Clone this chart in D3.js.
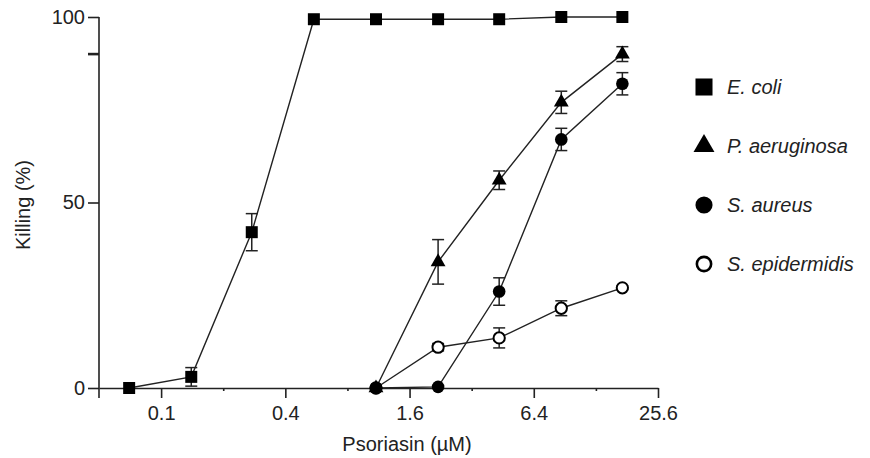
<!DOCTYPE html>
<html>
<head>
<meta charset="utf-8">
<script src="https://cdn.jsdelivr.net/npm/d3@7"></script>
<style>
    body { margin: 0; background: #fff; }
    svg { display: block; font-family: "Liberation Sans", Arial, sans-serif; }
</style>
</head>
<body>
<div class="container"></div>
<script>
// concentrations (uM)
var doses = [0.07, 0.14, 0.275, 0.55, 1.1, 2.2, 4.35, 8.7, 17.2];

var ecoli = [0, 3, 42, 99.4, 99.4, 99.4, 99.4, 100, 100];
var ecoli_err = [0, 2.5, 5, 0, 0, 0, 0, 0, 0];

var paeru = [null, null, null, null, 0, 34, 56, 77, 90];
var paeru_err = [0, 0, 0, 0, 0, 6, 2.5, 3, 2];

var saureus = [null, null, null, null, 0, 0.3, 26, 67, 82];
var saureus_err = [0, 0, 0, 0, 0, 0, 3.7, 3, 3];

var sepi = [null, null, null, null, 0, 11, 13.5, 21.5, 27];
var sepi_err = [0, 0, 0, 0, 0, 1, 2.7, 2, 0.5];

var major_ticks = [0.1, 0.4, 1.6, 6.4, 25.6];
var minor_ticks = [0.2, 0.8, 3.2, 12.8];
var y_ticks = [0, 50, 100];
var legend_labels = ["E. coli", "P. aeruginosa", "S. aureus", "S. epidermidis"];

var config = {
    width: 870,
    height: 458,
    left: 99,
    right: 658,
    top: 17,
    bottom: 388,
    ink: "#222"
};

var x = d3.scaleLog().base(2).domain([0.05, 25.6]).range([config.left, config.right]);
var y = d3.scaleLinear().domain([0, 100]).range([config.bottom, config.top]);

var svg = d3.select(".container").append("svg")
    .attr("width", config.width)
    .attr("height", config.height);

// series: symbol, plot size, legend size, filled?
var series = [
    { name: legend_labels[0], values: ecoli, err: ecoli_err, type: d3.symbolSquare, size: 144, lsize: 290, open: false },
    { name: legend_labels[3], values: sepi, err: sepi_err, type: d3.symbolCircle, size: 100, lsize: 160, open: true },
    { name: legend_labels[1], values: paeru, err: paeru_err, type: d3.symbolTriangle, size: 95, lsize: 190, open: false },
    { name: legend_labels[2], values: saureus, err: saureus_err, type: d3.symbolCircle, size: 125, lsize: 230, open: false }
];

var points = (s) => doses.map((d, i) => ({ x: d, y: s.values[i], e: s.err[i] })).filter((p) => p.y !== null);

// axes
var xMajor = svg.append("g")
    .attr("transform", `translate(0,${config.bottom})`)
    .call(d3.axisBottom(x).tickValues(major_ticks).tickSize(10).tickPadding(8).tickSizeOuter(0)
        .tickFormat((d) => d));
xMajor.select(".domain").attr("stroke", config.ink).attr("stroke-width", 1.6);

svg.append("g")
    .attr("transform", `translate(0,${config.bottom})`)
    .call(d3.axisBottom(x).tickValues(minor_ticks).tickSize(3).tickFormat(""))
    .select(".domain").remove();

var yAxis = svg.append("g")
    .attr("transform", `translate(${config.left},0)`)
    .call(d3.axisLeft(y).tickValues(y_ticks).tickSize(11).tickPadding(3).tickSizeOuter(0));
yAxis.select(".domain").remove();

// y axis line runs a little below the x axis
svg.append("line")
    .attr("x1", config.left).attr("x2", config.left)
    .attr("y1", y(100)).attr("y2", y(0) + 10)
    .attr("stroke", config.ink).attr("stroke-width", 1.6);

// stray thick tick near 90
svg.append("line")
    .attr("x1", config.left - 11).attr("x2", config.left)
    .attr("y1", y(90)).attr("y2", y(90))
    .attr("stroke", config.ink).attr("stroke-width", 2.6);

svg.selectAll(".tick line").attr("stroke", config.ink).attr("stroke-width", 1.6);
svg.selectAll(".tick text").attr("fill", config.ink).style("font-size", "20px");

// titles
svg.append("text")
    .attr("x", 407).attr("y", 451)
    .attr("text-anchor", "middle")
    .attr("fill", config.ink)
    .style("font-size", "20px")
    .text("Psoriasin (\u00b5M)");

svg.append("text")
    .attr("transform", "translate(30,205) rotate(-90)")
    .attr("text-anchor", "middle")
    .attr("fill", config.ink)
    .style("font-size", "20px")
    .text("Killing (%)");

// lines
var line = d3.line().x((d) => x(d.x)).y((d) => y(d.y));
series.forEach((s) => {
    svg.append("path")
        .attr("d", line(points(s)))
        .attr("fill", "none")
        .attr("stroke", config.ink)
        .attr("stroke-width", 1.4);
});

// error bars
series.forEach((s) => {
    var g = svg.append("g").attr("stroke", config.ink).attr("stroke-width", 1.5);
    points(s).filter((p) => p.e > 0).forEach((p) => {
        var cx = x(p.x);
        g.append("line").attr("x1", cx).attr("x2", cx).attr("y1", y(p.y - p.e)).attr("y2", y(p.y + p.e));
        [p.y - p.e, p.y + p.e].forEach((v) => {
            g.append("line").attr("x1", cx - 6).attr("x2", cx + 6).attr("y1", y(v)).attr("y2", y(v));
        });
    });
});

// markers
series.forEach((s) => {
    svg.append("g").selectAll("path")
        .data(points(s))
        .join("path")
        .attr("transform", (d) => `translate(${x(d.x)},${y(d.y)})`)
        .attr("d", d3.symbol().type(s.type).size(s.size))
        .attr("fill", s.open ? "#fff" : "#000")
        .attr("stroke", "#000")
        .attr("stroke-width", s.open ? 2 : 0);
});

// legend
var legendOrder = [0, 2, 3, 1];
var legend = svg.append("g").attr("transform", "translate(704,87)");
legendOrder.forEach((k, i) => {
    var s = series[k];
    var row = legend.append("g").attr("transform", `translate(0,${i * 59})`);
    row.append("path")
        .attr("d", d3.symbol().type(s.type).size(s.lsize))
        .attr("fill", s.open ? "#fff" : "#000")
        .attr("stroke", "#000")
        .attr("stroke-width", s.open ? 2.6 : 0);
    row.append("text")
        .attr("x", 23).attr("y", 7)
        .attr("fill", config.ink)
        .style("font-size", "20px")
        .style("font-style", "italic")
        .text(s.name);
});
</script>
</body>
</html>
